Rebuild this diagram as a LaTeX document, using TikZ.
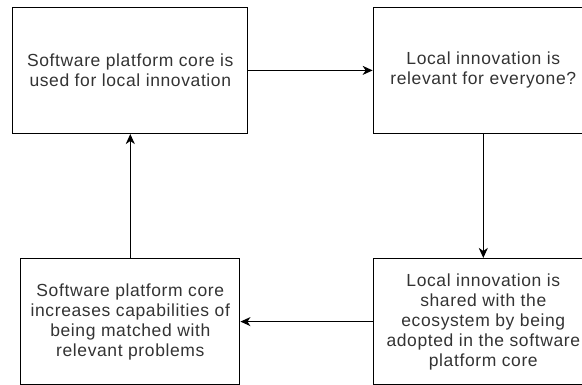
\documentclass[tikz,border=0pt]{standalone}
\usepackage{fontspec}
\setmainfont{Liberation Sans}[LetterSpace=3.5]
\usetikzlibrary{arrows.meta}

\begin{document}
\begin{tikzpicture}[x=1pt, y=-1pt,
  box/.style={draw, line width=1.25pt, minimum height=126pt, inner sep=0pt, align=center,
    text=black!80, font=\fontsize{17.5}{20}\selectfont},
  flow/.style={-{Stealth[length=10pt, width=9pt, inset=3pt]}, line width=1.25pt}]
\clip (0,0) rectangle (582,385);
% the four steps of the loop
\node[box, minimum width=235pt] (used) at (130.3,70.4) {Software platform core is\\used for local innovation};
\node[box, minimum width=220pt] (relevant) at (483.3,70.4) {Local innovation is\\relevant for everyone?};
\node[box, minimum width=220pt] (shared) at (483.3,321.6) {Local innovation is\\shared with the\\ecosystem by being\\adopted in the software\\platform core};
\node[box, minimum width=219pt] (matched) at (130.3,321.6) {Software platform core\\increases capabilities of\\being matched with\\relevant problems};
% connectors
\draw[flow] (used) -- (relevant);
\draw[flow] (relevant) -- (shared);
\draw[flow] (shared) -- (matched);
\draw[flow] (matched) -- (used);
\end{tikzpicture}
\end{document}
